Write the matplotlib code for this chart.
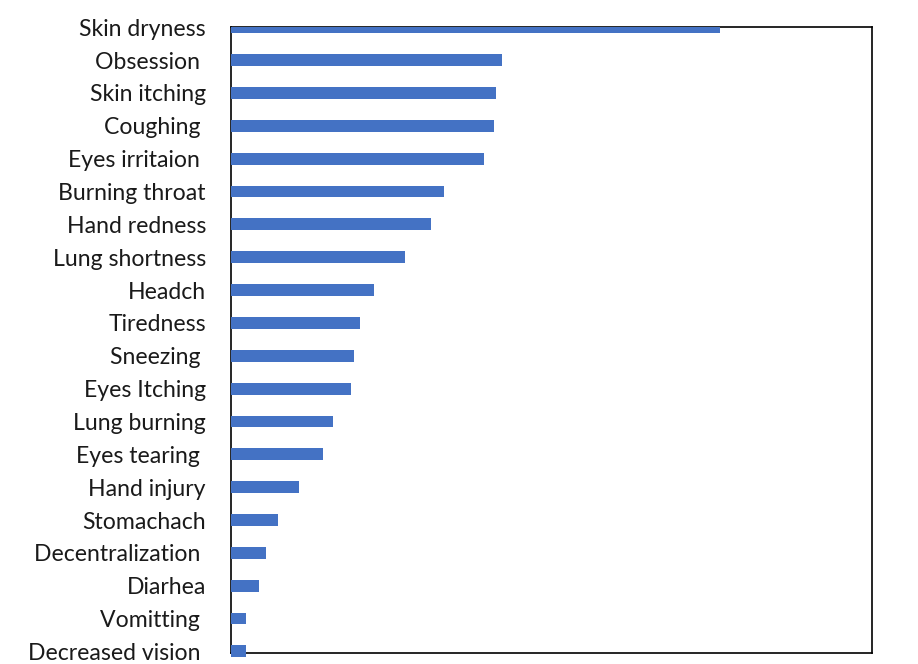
import matplotlib
matplotlib.use("Agg")
import matplotlib.pyplot as plt

symptoms = ["Skin dryness", "Obsession ", "Skin itching", "Coughing ", "Eyes irritaion ",
            "Burning throat", "Hand redness", "Lung shortness", "Headch", "Tiredness",
            "Sneezing ", "Eyes Itching", "Lung burning", "Eyes tearing ", "Hand injury",
            "Stomachach", "Decentralization ", "Diarhea", "Vomitting ", "Decreased vision "]
values = [76.3, 42.2, 41.3, 41.1, 39.4, 33.3, 31.2, 27.1, 22.3, 20.2,
          19.2, 18.7, 15.9, 14.3, 10.6, 7.3, 5.5, 4.4, 2.3, 2.3]

plt.rcParams['font.family'] = ['Lato', 'DejaVu Sans']

fig = plt.figure(figsize=(9.18, 6.64), dpi=100)
ax = fig.add_axes([0.2516, 0.017, 0.6984, 0.9419])

pos = list(range(len(symptoms)))
bars = ax.barh(pos, values, height=0.36, color="#4472C4", zorder=3)
bars[-1].set_clip_on(False)

ax.set_xlim(0, 100)
ax.set_ylim(19.04, 0)
ax.set_yticks(pos)
ax.set_yticklabels(symptoms, fontsize=16.6, color="#1a1a1a")
ax.tick_params(axis="y", length=0, pad=18)
ax.set_xticks([])
for s in ax.spines.values():
    s.set_linewidth(1.2)
    s.set_color("black")

fig.savefig("out.png", dpi=100)
